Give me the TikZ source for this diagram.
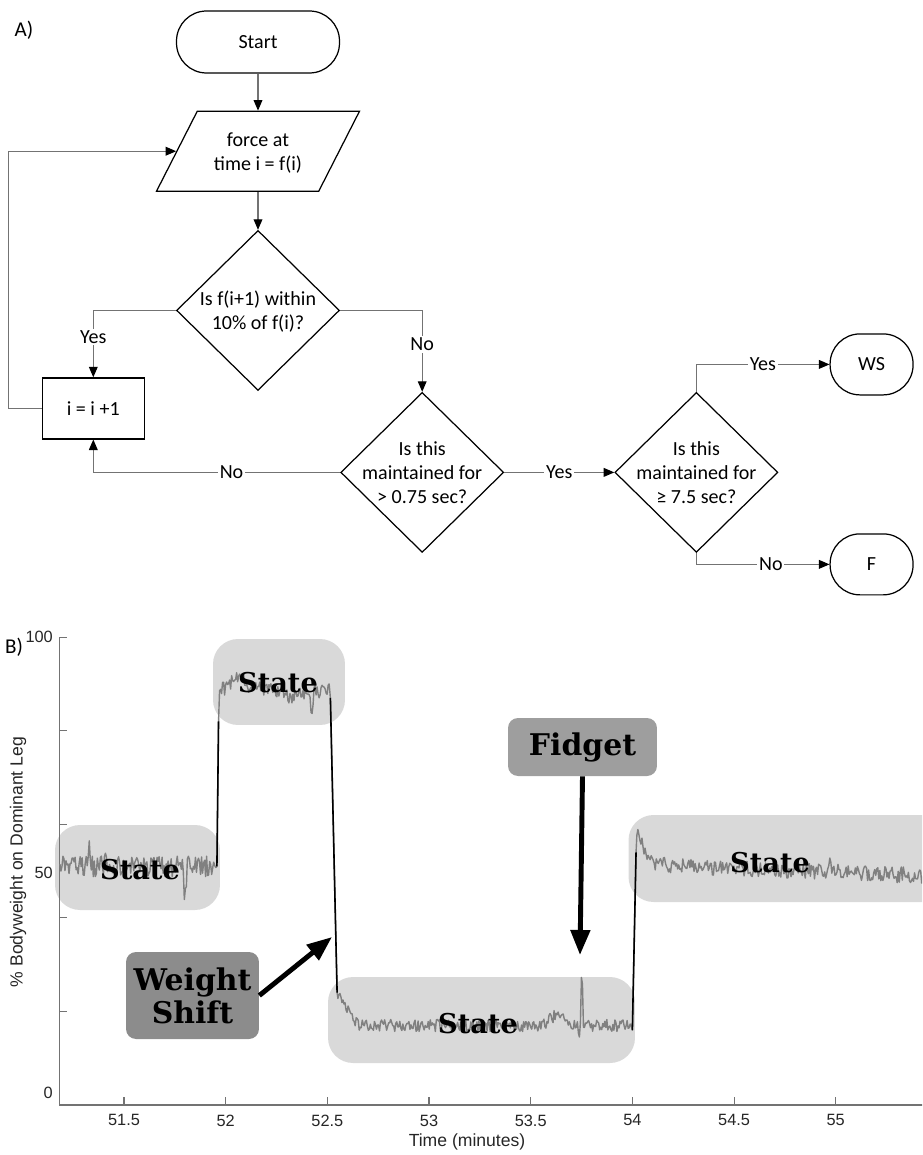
\documentclass[tikz,border=0pt]{standalone}
\usepackage{fontspec}
\setmainfont{Carlito}
\newfontfamily\axisfont{Liberation Sans}
\newfontfamily\tagfont{DejaVu Serif}
\usetikzlibrary{positioning,arrows.meta,shapes.geometric}
\newcommand{\shapetext}[1]{\makebox[0pt]{\smash{\raisebox{-0.14cm}{\begin{tabular}{@{}c@{}}#1\end{tabular}}}}}
\tikzset{
    flowfont/.style={font=\fontsize{11.4}{13.7}\selectfont},
    term/.style={
        rectangle, rounded corners=0.6cm,
        draw, line width=0.7pt, minimum width=3.26cm,
        minimum height=1.24cm, flowfont
    },
    io/.style={
        trapezium, trapezium left angle=63,
        trapezium right angle=117,
        draw, line width=0.7pt, inner xsep=1.215cm,
        inner ysep=0.8cm, flowfont
    },
    decision/.style={
        diamond, draw, line width=0.7pt,
        minimum width=3.26cm, minimum height=3.2cm,
        inner sep=0pt, flowfont
    },
    stepbox/.style={
        rectangle, draw, line width=0.7pt,
        minimum width=2.04cm, minimum height=1.22cm, flowfont
    },
    flow/.style={draw=black!55, line width=0.6pt,
        -{Triangle[length=6pt,width=5pt,color=black]}},
    yn/.style={fill=white, inner sep=1pt, flowfont},
    panel/.style={font=\fontsize{12}{14}\selectfont},
    bubble/.style={rectangle, rounded corners=0.5cm, fill=black!15},
    tag/.style={
        rectangle, rounded corners=0.2cm, align=center,
        font=\tagfont\bfseries\fontsize{17}{18.8}\selectfont
    },
    statelab/.style={inner sep=0pt,
        font=\tagfont\bfseries\fontsize{15.5}{18}\selectfont},
    trace/.style={draw=black!50, line width=0.8pt, line join=round},
    jump/.style={draw=black, line width=0.9pt},
    axis/.style={draw=black!55, line width=0.6pt},
    ticklab/.style={inner sep=1pt, text=black!85,
        font=\axisfont\fontsize{9.3}{11}\selectfont},
    axlab/.style={inner sep=1pt, text=black!85,
        font=\axisfont\fontsize{10}{12}\selectfont},
    bigarrow/.style={line width=2.8pt,
        -{Triangle[length=0.5cm,width=0.38cm]}}
}

\begin{document}
\begin{tikzpicture}[x=0.02cm, y=-0.02cm, node distance=1cm,
    declare function={tri(\t,\c,\w)=max(0,1-abs(\t-\c)/\w);}]

    \useasboundingbox (0,0) rectangle (922,1155);
    \clip (0,0) rectangle (922,1155);

    % Panel labels
    \node[panel] (pa) at (24,30) {A)};
    \node[panel] (pb) at (14,647) {B)};

    % Flowchart nodes
    \node[term] (start) at (258,42) {Start};
    \node[io, below=0.74cm of start] (force)
        {\shapetext{force at\\time i = f(i)}};
    \node[decision, below=0.76cm of force] (within)
        {\shapetext{Is f(i+1) within\\10\% of f(i)?}};
    \node[stepbox, left=0.62cm of within, yshift=-1.96cm] (inc) {i = i +1};
    \node[decision, right=0cm of within, yshift=-3.24cm] (hold)
        {\shapetext{Is this\\maintained for\\> 0.75 sec?}};
    \node[decision, right=2.2cm of hold] (long)
        {\shapetext{Is this\\maintained for\\≥ 7.5 sec?}};
    \node[term, minimum width=1.66cm, minimum height=1.22cm,
        right=1.02cm of long, yshift=2.16cm] (ws) {WS};
    \node[term, minimum width=1.66cm, minimum height=1.22cm,
        right=1.02cm of long, yshift=-1.84cm] (fail) {F};

    % Flowchart arrows
    \draw[flow] (start) -- (force);
    \draw[flow] (force) -- (within);
    \draw[flow] (within.west) -| node[yn, pos=0.7] (yes1) {Yes} (inc.north);
    \draw[flow] (within.east) -| node[yn, pos=0.71] (no1) {No} (hold.north);
    \draw[flow] (hold.west) -| node[yn, pos=0.22] (no2) {No} (inc.south);
    \draw[flow] (hold.east) -- node[yn] (yes2) {Yes} (long.west);
    \draw[flow] (long.north) |- node[yn, pos=0.75] (yes3) {Yes} (ws.west);
    \draw[flow] (long.south) |- node[yn, pos=0.78] (no3) {No} (fail.west);
    \draw[flow] (inc.west) -- ++(-33,0) |- (force.west);

    % State regions
    \node[bubble, minimum width=3.3cm, minimum height=1.7cm] (st1box) at (137.5,867.5) {};
    \node[bubble, minimum width=2.64cm, minimum height=1.72cm] (st2box) at (279,682) {};
    \node[bubble, minimum width=6.14cm, minimum height=1.72cm] (st3box) at (481.5,1020) {};
    \node[bubble, minimum width=6.7cm, minimum height=1.74cm] (st4box) at (796,858.5) {};

    % Force trace
    \pgfmathsetseed{7}
    \begin{scope}[shift={(22.3,1105)}, x=4.068cm, y=0.0936cm]
        \draw[axis] (0.185,100) -- (0.185,0) -- (4.5,0);
        \foreach \v in {20,40,60,80,100}
            \draw[axis] (0.185,\v) -- ++(0.14cm,0);
        \foreach \t/\s [count=\k] in {0.5/51.5,1/52,1.5/52.5,2/53,2.5/53.5,3/54,3.5/54.5,4/55} {
            \draw[axis] (\t,0) -- ++(0,0.16cm);
            \node[ticklab, below=0.15cm] (xt\k) at (\t,0) {\s};
        }
        \node[ticklab, left=0.1cm] (yt100) at (0.185,100) {100};
        \node[ticklab, left=0.1cm] (yt50) at (0.185,49.6) {50};
        \node[ticklab, left=0.1cm] (yt0) at (0.185,2.5) {0};

        \draw[trace]
            plot[domain=0.185:0.952, samples=155]
                (\x,{51+2.2*rand+4*tri(\x,0.33,0.01)+4*tri(\x,0.41,0.01)-7*tri(\x,0.8,0.012)})
            -- (0.957,51) -- (0.965,82)
            -- plot[domain=0.97:1.51, samples=110]
                (\x,{89+1.5*rand+3*tri(\x,1.06,0.06)-2*tri(\x,1.33,0.1)-7*tri(\x,1.424,0.012)-3*tri(\x,1.46,0.01)})
            -- (1.515,87) -- (1.548,24)
            -- plot[domain=1.552:2.995, samples=290]
                (\x,{17+7*max(0,1-(\x-1.55)/0.1)+1.3*rand+2.5*tri(\x,2.63,0.07)+14*tri(\x,2.752,0.008)-5*tri(\x,2.738,0.006)})
            -- (3.0,16) -- (3.018,54)
            -- plot[domain=3.022:4.45, samples=285]
                (\x,{51.5+6*max(0,1-(\x-3.025)/0.08)-2.5*(\x-3.025)/1.4+1.7*rand+3*tri(\x,3.97,0.012)+2*tri(\x,3.43,0.01)});
        \draw[jump] (0.957,51) -- (0.965,82);
        \draw[jump] (1.515,87) -- (1.548,24);
        \draw[jump] (3.0,16) -- (3.018,54);
    \end{scope}

    % Axis titles
    \node[axlab, rotate=90] (ylab) at (18,862) {\% Bodyweight on Dominant Leg};
    \node[axlab] (xlab) at (467,1142) {Time (minutes)};

    % State labels
    \node[statelab] (st1) at (140,870) {State};
    \node[statelab] (st2) at (278,683) {State};
    \node[statelab] (st3) at (478,1024) {State};
    \node[statelab] (st4) at (770,863) {State};

    % Events
    \node[tag, fill=black!45, minimum width=2.66cm, minimum height=1.74cm]
        (shift) at (192.5,995.5) {Weight\\Shift};
    \node[tag, fill=black!38, minimum width=2.98cm, minimum height=1.16cm]
        (fidget) at (582.5,747) {Fidget};
    \coordinate (shiftTip) at (332,937);
    \coordinate (fidgetTip) at (580,955);
    \draw[bigarrow] (shift.east) -- (shiftTip);
    \draw[bigarrow] (fidget.south) -- (fidgetTip);

\end{tikzpicture}
\end{document}
